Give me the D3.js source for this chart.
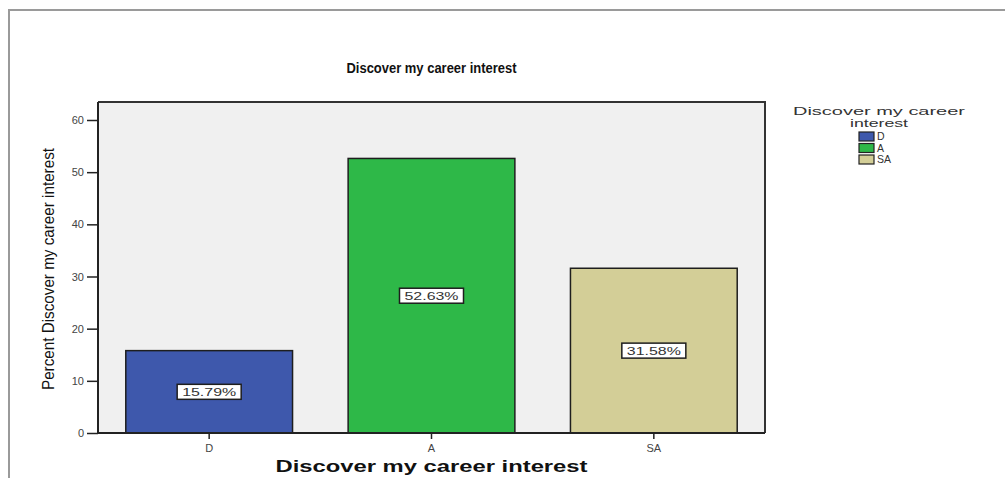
<!DOCTYPE html>
<html>
<head>
<meta charset="utf-8">
<script src="https://cdn.jsdelivr.net/npm/d3@7"></script>
<style>
  html, body { margin: 0; padding: 0; background: #fff; }
  svg { display: block; font-family: "Liberation Sans", Arial, sans-serif; }
</style>
</head>
<body>
<svg id="chart" width="1005" height="478"></svg>
<script>
// Response categories and their percentages
const categories = ["D", "A", "SA"];
const percents = [15.79, 52.63, 31.58];
const barColors = ["#3e58ac", "#2eb848", "#d3ce97"];
const yTicks = [0, 10, 20, 30, 40, 50, 60];
const chartTitle = "Discover my career interest";
const xTitle = "Discover my career interest";
const yTitle = "Percent Discover my career interest";
const legendTitle = ["Discover my career", "interest"];

const svg = d3.select("#chart");

// outer frame (top and left edges)
svg.append("path")
  .attr("d", "M9,478 V10 H1005")
  .attr("fill", "none")
  .attr("stroke", "#9a9a9a")
  .attr("stroke-width", 2);

const plot = { left: 98, right: 765, top: 102, bottom: 433 };

const x = d3.scaleBand()
  .domain(categories)
  .range([plot.left, plot.right])
  .paddingInner(0.25)
  .paddingOuter(0.125);

const y = d3.scaleLinear()
  .domain([0, 63.45])
  .range([plot.bottom, plot.top]);

// plot background
svg.append("rect")
  .attr("x", plot.left).attr("y", plot.top)
  .attr("width", plot.right - plot.left)
  .attr("height", plot.bottom - plot.top)
  .attr("fill", "#f0f0f0");

// bars
svg.selectAll("rect.bar")
  .data(categories)
  .join("rect")
  .attr("class", "bar")
  .attr("x", d => x(d))
  .attr("y", (d, i) => y(percents[i]))
  .attr("width", x.bandwidth())
  .attr("height", (d, i) => y(0) - y(percents[i]))
  .attr("fill", (d, i) => barColors[i])
  .attr("stroke", "#1e1e1e")
  .attr("stroke-width", 1.5);

// plot border (top and right) drawn over bars
svg.append("path")
  .attr("d", `M${plot.left},${plot.top} H${plot.right} V${plot.bottom}`)
  .attr("fill", "none")
  .attr("stroke", "#333")
  .attr("stroke-width", 2);

// value labels centred in each bar
const labels = svg.selectAll("g.vlabel")
  .data(categories)
  .join("g")
  .attr("class", "vlabel")
  .attr("transform", (d, i) =>
    `translate(${x(d) + x.bandwidth() / 2},${y(percents[i] / 2)})`);

labels.append("rect")
  .attr("x", -32).attr("y", -7.5)
  .attr("width", 64).attr("height", 15)
  .attr("fill", "#fff")
  .attr("stroke", "#1e1e1e")
  .attr("stroke-width", 1.5);

labels.append("text")
  .attr("text-anchor", "middle")
  .attr("dy", "0.36em")
  .attr("font-size", 11)
  .attr("fill", "#333")
  .attr("textLength", 54)
  .attr("lengthAdjust", "spacingAndGlyphs")
  .text((d, i) => percents[i].toFixed(2) + "%");

// y axis
const yAxis = svg.append("g")
  .attr("transform", `translate(${plot.left},0)`)
  .call(d3.axisLeft(y).tickValues(yTicks).tickSize(11).tickPadding(3));
yAxis.select(".domain").attr("stroke", "#222").attr("stroke-width", 2)
  .attr("d", `M0,${plot.top}V${plot.bottom}`);
yAxis.selectAll(".tick line").attr("stroke", "#222").attr("stroke-width", 1.5);
yAxis.selectAll(".tick text")
  .attr("font-size", 11)
  .attr("fill", "#444")
  .attr("font-family", "Liberation Sans, Arial, sans-serif");

// x axis
const xAxis = svg.append("g")
  .attr("transform", `translate(0,${plot.bottom})`)
  .call(d3.axisBottom(x).tickSize(6).tickPadding(5));
xAxis.select(".domain").attr("stroke", "#222").attr("stroke-width", 2)
  .attr("d", `M${plot.left},0H${plot.right}`);
xAxis.selectAll(".tick line").attr("stroke", "#222").attr("stroke-width", 1.5);
xAxis.selectAll(".tick text")
  .attr("font-size", 11)
  .attr("fill", "#444")
  .attr("font-family", "Liberation Sans, Arial, sans-serif");

// chart title
svg.append("text")
  .attr("x", (plot.left + plot.right) / 2)
  .attr("y", 73)
  .attr("text-anchor", "middle")
  .attr("font-size", 14)
  .attr("font-weight", "bold")
  .attr("fill", "#111")
  .attr("textLength", 170)
  .attr("lengthAdjust", "spacingAndGlyphs")
  .text(chartTitle);

// x axis title
svg.append("text")
  .attr("x", (plot.left + plot.right) / 2)
  .attr("y", 472)
  .attr("text-anchor", "middle")
  .attr("font-size", 16)
  .attr("font-weight", "bold")
  .attr("fill", "#111")
  .attr("textLength", 312)
  .attr("lengthAdjust", "spacingAndGlyphs")
  .text(xTitle);

// y axis title (condensed)
svg.append("text")
  .attr("transform", "translate(54,269) rotate(-90)")
  .attr("text-anchor", "middle")
  .attr("font-size", 16)
  .attr("fill", "#111")
  .attr("textLength", 242)
  .attr("lengthAdjust", "spacingAndGlyphs")
  .text(yTitle);

// legend
const legend = svg.append("g");
legend.selectAll("text.ltitle")
  .data(legendTitle)
  .join("text")
  .attr("class", "ltitle")
  .attr("x", 879)
  .attr("y", (d, i) => 115 + i * 12)
  .attr("text-anchor", "middle")
  .attr("font-size", 11.5)
  .attr("fill", "#333")
  .attr("textLength", (d, i) => i === 0 ? 172 : 58)
  .attr("lengthAdjust", "spacingAndGlyphs")
  .text(d => d);

const items = legend.selectAll("g.item")
  .data(categories)
  .join("g")
  .attr("class", "item")
  .attr("transform", (d, i) => `translate(859,${132 + i * 11.5})`);
items.append("rect")
  .attr("width", 15).attr("height", 9)
  .attr("fill", (d, i) => barColors[i])
  .attr("stroke", "#222")
  .attr("stroke-width", 1.2);
items.append("text")
  .attr("x", 18).attr("y", 4.5)
  .attr("dy", "0.36em")
  .attr("font-size", 10.5)
  .attr("fill", "#333")
  .text(d => d);
</script>
</body>
</html>
